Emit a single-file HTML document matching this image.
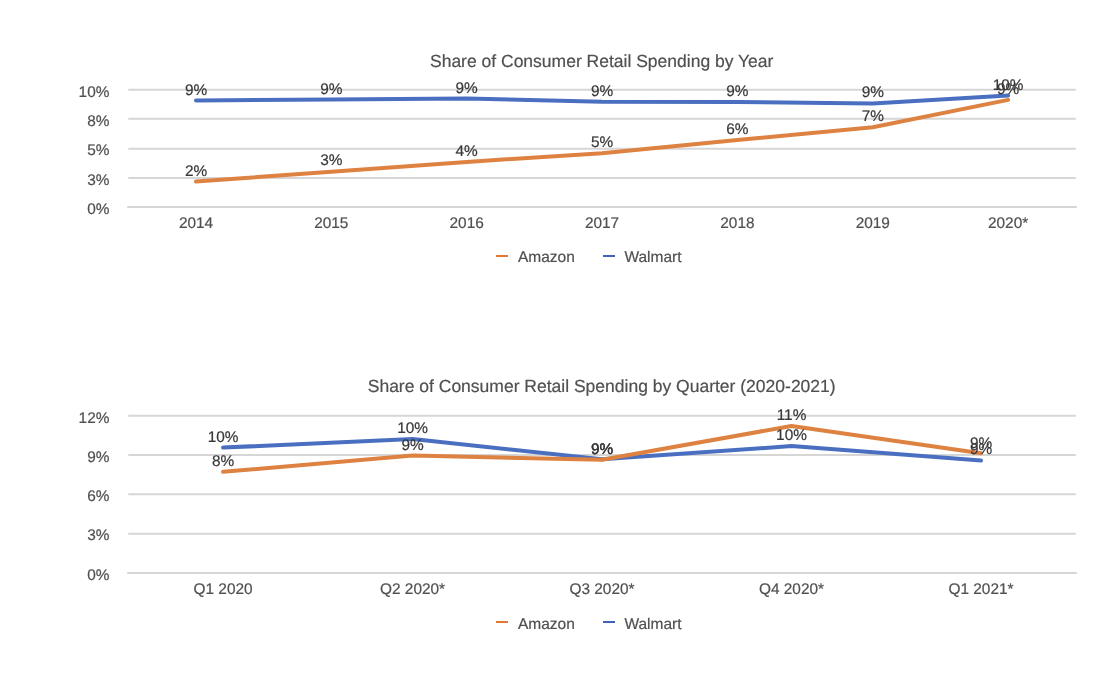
<!DOCTYPE html>
<html><head><meta charset="utf-8"><title>Share of Consumer Retail Spending</title>
<style>
html,body{margin:0;padding:0;background:#fff}
svg{display:block;font-family:"Liberation Sans",sans-serif;text-rendering:geometricPrecision}
</style></head><body>
<svg width="1110" height="682" viewBox="0 0 1110 682">
<rect width="1110" height="682" fill="#ffffff"/>
<text x="601.7" y="67.0" text-anchor="middle" font-size="17.5" fill="#505050" stroke="#505050" stroke-width="0.2">Share of Consumer Retail Spending by Year</text>
<line x1="128.3" x2="1075.8" y1="89.8" y2="89.8" stroke="#d6d6d6" stroke-width="2"/>
<text x="109.4" y="96.5" text-anchor="end" font-size="15.4" fill="#505050" stroke="#505050" stroke-width="0.2">10%</text>
<line x1="128.3" x2="1075.8" y1="118.8" y2="118.8" stroke="#d6d6d6" stroke-width="2"/>
<text x="109.4" y="125.5" text-anchor="end" font-size="15.4" fill="#505050" stroke="#505050" stroke-width="0.2">8%</text>
<line x1="128.3" x2="1075.8" y1="148.7" y2="148.7" stroke="#d6d6d6" stroke-width="2"/>
<text x="109.4" y="155.4" text-anchor="end" font-size="15.4" fill="#505050" stroke="#505050" stroke-width="0.2">5%</text>
<line x1="128.3" x2="1075.8" y1="177.9" y2="177.9" stroke="#d6d6d6" stroke-width="2"/>
<text x="109.4" y="184.6" text-anchor="end" font-size="15.4" fill="#505050" stroke="#505050" stroke-width="0.2">3%</text>
<line x1="127.2" x2="1076.9" y1="206.9" y2="206.9" stroke="#d6d6d6" stroke-width="2"/>
<text x="109.4" y="213.6" text-anchor="end" font-size="15.4" fill="#505050" stroke="#505050" stroke-width="0.2">0%</text>
<text x="196.0" y="227.5" text-anchor="middle" font-size="15.4" fill="#505050" stroke="#505050" stroke-width="0.2">2014</text>
<text x="331.3" y="227.5" text-anchor="middle" font-size="15.4" fill="#505050" stroke="#505050" stroke-width="0.2">2015</text>
<text x="466.7" y="227.5" text-anchor="middle" font-size="15.4" fill="#505050" stroke="#505050" stroke-width="0.2">2016</text>
<text x="602.0" y="227.5" text-anchor="middle" font-size="15.4" fill="#505050" stroke="#505050" stroke-width="0.2">2017</text>
<text x="737.4" y="227.5" text-anchor="middle" font-size="15.4" fill="#505050" stroke="#505050" stroke-width="0.2">2018</text>
<text x="872.8" y="227.5" text-anchor="middle" font-size="15.4" fill="#505050" stroke="#505050" stroke-width="0.2">2019</text>
<text x="1008.1" y="227.5" text-anchor="middle" font-size="15.4" fill="#505050" stroke="#505050" stroke-width="0.2">2020*</text>
<polyline points="196.0,100.5 331.3,99.5 466.7,98.4 602.0,101.7 737.4,101.9 872.8,103.4 1008.1,95.6" fill="none" stroke="#4a6fc0" stroke-width="4" stroke-linecap="round" stroke-linejoin="round"/>
<polyline points="196.0,181.5 331.3,171.7 466.7,161.9 602.0,153.2 737.4,140.1 872.8,127.3 1008.1,99.9" fill="none" stroke="#de8242" stroke-width="4" stroke-linecap="round" stroke-linejoin="round"/>
<text x="196.0" y="176.05" text-anchor="middle" font-size="15.4" fill="#383838" stroke="#383838" stroke-width="0.2">2%</text>
<text x="331.3" y="164.80" text-anchor="middle" font-size="15.4" fill="#383838" stroke="#383838" stroke-width="0.2">3%</text>
<text x="466.7" y="155.55" text-anchor="middle" font-size="15.4" fill="#383838" stroke="#383838" stroke-width="0.2">4%</text>
<text x="602.0" y="146.70" text-anchor="middle" font-size="15.4" fill="#383838" stroke="#383838" stroke-width="0.2">5%</text>
<text x="737.4" y="134.30" text-anchor="middle" font-size="15.4" fill="#383838" stroke="#383838" stroke-width="0.2">6%</text>
<text x="872.8" y="121.05" text-anchor="middle" font-size="15.4" fill="#383838" stroke="#383838" stroke-width="0.2">7%</text>
<text x="1008.1" y="93.60" text-anchor="middle" font-size="15.4" fill="#383838" stroke="#383838" stroke-width="0.2">9%</text>
<text x="196.0" y="95.00" text-anchor="middle" font-size="15.4" fill="#383838" stroke="#383838" stroke-width="0.2">9%</text>
<text x="331.3" y="93.75" text-anchor="middle" font-size="15.4" fill="#383838" stroke="#383838" stroke-width="0.2">9%</text>
<text x="466.7" y="92.75" text-anchor="middle" font-size="15.4" fill="#383838" stroke="#383838" stroke-width="0.2">9%</text>
<text x="602.0" y="95.95" text-anchor="middle" font-size="15.4" fill="#383838" stroke="#383838" stroke-width="0.2">9%</text>
<text x="737.4" y="95.60" text-anchor="middle" font-size="15.4" fill="#383838" stroke="#383838" stroke-width="0.2">9%</text>
<text x="872.8" y="97.00" text-anchor="middle" font-size="15.4" fill="#383838" stroke="#383838" stroke-width="0.2">9%</text>
<text x="1008.1" y="89.90" text-anchor="middle" font-size="15.4" fill="#383838" stroke="#383838" stroke-width="0.2">10%</text>
<rect x="496" y="255" width="12" height="2" fill="#de7834"/>
<text x="518" y="261.7" font-size="15.5" fill="#505050" stroke="#505050" stroke-width="0.2">Amazon</text>
<rect x="603" y="255" width="12" height="2" fill="#4063b8"/>
<text x="624.4" y="261.7" font-size="15.5" fill="#505050" stroke="#505050" stroke-width="0.2">Walmart</text>
<text x="601.7" y="392.4" text-anchor="middle" font-size="17.5" fill="#505050" stroke="#505050" stroke-width="0.2">Share of Consumer Retail Spending by Quarter (2020-2021)</text>
<line x1="128.3" x2="1075.8" y1="415.8" y2="415.8" stroke="#d6d6d6" stroke-width="2"/>
<text x="109.4" y="422.5" text-anchor="end" font-size="15.4" fill="#505050" stroke="#505050" stroke-width="0.2">12%</text>
<line x1="128.3" x2="1075.8" y1="455.0" y2="455.0" stroke="#d6d6d6" stroke-width="2"/>
<text x="109.4" y="461.7" text-anchor="end" font-size="15.4" fill="#505050" stroke="#505050" stroke-width="0.2">9%</text>
<line x1="128.3" x2="1075.8" y1="494.3" y2="494.3" stroke="#d6d6d6" stroke-width="2"/>
<text x="109.4" y="501.0" text-anchor="end" font-size="15.4" fill="#505050" stroke="#505050" stroke-width="0.2">6%</text>
<line x1="128.3" x2="1075.8" y1="533.7" y2="533.7" stroke="#d6d6d6" stroke-width="2"/>
<text x="109.4" y="540.4" text-anchor="end" font-size="15.4" fill="#505050" stroke="#505050" stroke-width="0.2">3%</text>
<line x1="127.2" x2="1076.9" y1="573.0" y2="573.0" stroke="#d6d6d6" stroke-width="2"/>
<text x="109.4" y="579.7" text-anchor="end" font-size="15.4" fill="#505050" stroke="#505050" stroke-width="0.2">0%</text>
<text x="223.1" y="593.5" text-anchor="middle" font-size="15.4" fill="#505050" stroke="#505050" stroke-width="0.2">Q1 2020</text>
<text x="412.6" y="593.5" text-anchor="middle" font-size="15.4" fill="#505050" stroke="#505050" stroke-width="0.2">Q2 2020*</text>
<text x="602.0" y="593.5" text-anchor="middle" font-size="15.4" fill="#505050" stroke="#505050" stroke-width="0.2">Q3 2020*</text>
<text x="791.5" y="593.5" text-anchor="middle" font-size="15.4" fill="#505050" stroke="#505050" stroke-width="0.2">Q4 2020*</text>
<text x="981.0" y="593.5" text-anchor="middle" font-size="15.4" fill="#505050" stroke="#505050" stroke-width="0.2">Q1 2021*</text>
<polyline points="223.1,447.6 412.6,439.1 602.0,459.3 791.5,446.1 981.0,460.5" fill="none" stroke="#4a6fc0" stroke-width="4" stroke-linecap="round" stroke-linejoin="round"/>
<polyline points="223.1,471.8 412.6,455.6 602.0,459.7 791.5,426.0 981.0,453.3" fill="none" stroke="#de8242" stroke-width="4" stroke-linecap="round" stroke-linejoin="round"/>
<text x="223.1" y="465.60" text-anchor="middle" font-size="15.4" fill="#383838" stroke="#383838" stroke-width="0.2">8%</text>
<text x="412.6" y="450.15" text-anchor="middle" font-size="15.4" fill="#383838" stroke="#383838" stroke-width="0.2">9%</text>
<text x="602.0" y="453.90" text-anchor="middle" font-size="15.4" fill="#383838" stroke="#383838" stroke-width="0.2">9%</text>
<text x="791.5" y="420.25" text-anchor="middle" font-size="15.4" fill="#383838" stroke="#383838" stroke-width="0.2">11%</text>
<text x="981.0" y="447.80" text-anchor="middle" font-size="15.4" fill="#383838" stroke="#383838" stroke-width="0.2">9%</text>
<text x="223.1" y="442.10" text-anchor="middle" font-size="15.4" fill="#383838" stroke="#383838" stroke-width="0.2">10%</text>
<text x="412.6" y="432.60" text-anchor="middle" font-size="15.4" fill="#383838" stroke="#383838" stroke-width="0.2">10%</text>
<text x="602.0" y="453.60" text-anchor="middle" font-size="15.4" fill="#383838" stroke="#383838" stroke-width="0.2">9%</text>
<text x="791.5" y="439.60" text-anchor="middle" font-size="15.4" fill="#383838" stroke="#383838" stroke-width="0.2">10%</text>
<text x="981.0" y="454.40" text-anchor="middle" font-size="15.4" fill="#383838" stroke="#383838" stroke-width="0.2">9%</text>
<rect x="496" y="621" width="12" height="2" fill="#de7834"/>
<text x="518" y="628.7" font-size="15.5" fill="#505050" stroke="#505050" stroke-width="0.2">Amazon</text>
<rect x="603" y="621" width="12" height="2" fill="#4063b8"/>
<text x="624.4" y="628.7" font-size="15.5" fill="#505050" stroke="#505050" stroke-width="0.2">Walmart</text>
</svg>
</body></html>
